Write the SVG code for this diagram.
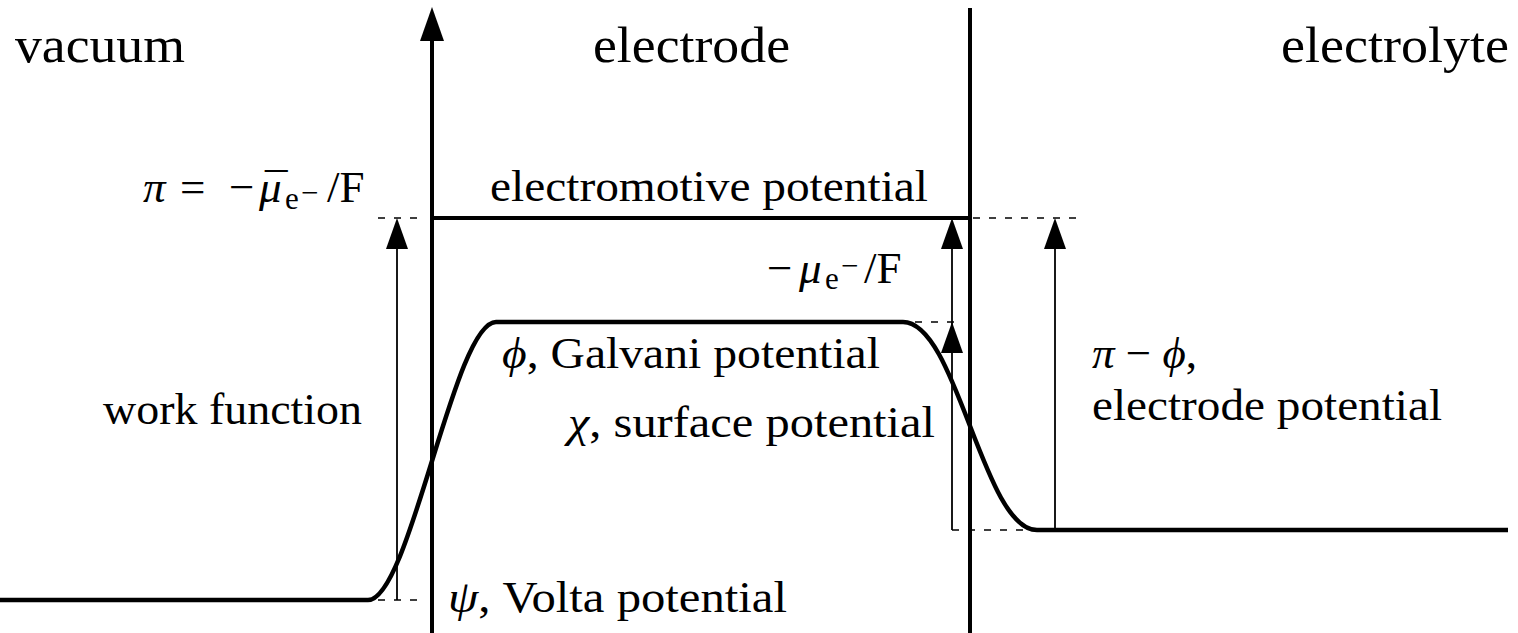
<svg xmlns="http://www.w3.org/2000/svg" width="1518" height="633" viewBox="0 0 1518 633">
<style>
text{font-family:"Liberation Serif","DejaVu Serif",serif;fill:#000}
.big{font-size:50px}
.lab{font-size:45px}
.sub{font-size:31px}
.it{font-style:italic}
.thick{stroke:#000;stroke-width:4;fill:none}
.thin{stroke:#000;stroke-width:1.8;fill:none}
.dash{stroke:#000;stroke-width:1.6;fill:none;stroke-dasharray:7 9}
.curve{stroke:#000;stroke-width:4.5;fill:none;stroke-linejoin:round}
.head{fill:#000}
</style>
<g id="axes">
<line class="thick" x1="432" y1="36" x2="432" y2="633"/>
<polygon class="head" points="432,7 420,41 444,41"/>
<line class="thick" x1="970" y1="8" x2="970" y2="633"/>
<line class="thick" x1="432" y1="218" x2="970" y2="218"/>
</g>
<g id="potential-curve">
<path class="curve" d="M0 600 L368 600 C410 600 454 322 496 322 L903 322 C957 322 983 530 1037 530 L1508 530"/>
</g>
<g id="guides">
<line class="dash" x1="378" y1="218" x2="422" y2="218"/>
<line class="dash" x1="973" y1="218" x2="1076" y2="218"/>
<line class="dash" x1="915" y1="322" x2="962" y2="322"/>
<line class="dash" x1="378" y1="600" x2="422" y2="600"/>
<line class="dash" x1="952" y1="530" x2="1032" y2="530"/>
</g>
<g id="connectors">
<line class="thin" x1="397" y1="600" x2="397" y2="240"/>
<polygon class="head" points="397,218 386,249 408,249"/>
<line class="thin" x1="952" y1="530" x2="952" y2="240"/>
<polygon class="head" points="952,218 941,249 963,249"/>
<polygon class="head" points="952,322 941,353 963,353"/>
<line class="thin" x1="1055" y1="530" x2="1055" y2="240"/>
<polygon class="head" points="1055,218 1044,249 1066,249"/>
</g>
<g id="region-labels">
<text class="big" x="15" y="62" textLength="170" lengthAdjust="spacingAndGlyphs">vacuum</text>
<text class="big" x="593" y="62" textLength="197" lengthAdjust="spacingAndGlyphs">electrode</text>
<text class="big" x="1281" y="62" textLength="228" lengthAdjust="spacingAndGlyphs">electrolyte</text>
</g>
<g id="label-pi">
<text class="lab"><tspan class="it" x="143" y="202">π</tspan><tspan x="180" y="202">=</tspan><tspan x="229" y="202">−</tspan><tspan class="it" x="259" y="202">μ</tspan><tspan x="265" y="204">¯</tspan><tspan class="sub" x="285" y="209">e</tspan><tspan class="sub" x="301" y="203">−</tspan><tspan x="327" y="202">/F</tspan></text>
</g>
<g id="label-emf">
<text class="lab" x="490" y="201" textLength="438" lengthAdjust="spacingAndGlyphs">electromotive potential</text>
</g>
<g id="label-mu">
<text class="lab"><tspan x="767" y="283">−</tspan><tspan class="it" x="799" y="283">μ</tspan><tspan class="sub" x="825" y="289">e</tspan><tspan class="sub" x="841" y="276">−</tspan><tspan x="864" y="283">/F</tspan></text>
</g>
<g id="label-galvani">
<text class="lab" x="502" y="368" textLength="378" lengthAdjust="spacingAndGlyphs"><tspan class="it">ϕ</tspan>, Galvani potential</text>
</g>
<g id="label-surface">
<text class="lab" x="568" y="437" textLength="367" lengthAdjust="spacingAndGlyphs"><tspan class="it">χ</tspan>, surface potential</text>
</g>
<g id="label-work">
<text class="lab" x="103" y="424" textLength="259" lengthAdjust="spacingAndGlyphs">work function</text>
</g>
<g id="label-volta">
<text class="lab" x="448" y="612" textLength="339" lengthAdjust="spacingAndGlyphs"><tspan class="it">ψ</tspan>, Volta potential</text>
</g>
<g id="label-electrode-potential">
<text class="lab" x="1092" y="368"><tspan class="it">π</tspan> − <tspan class="it">ϕ</tspan>,</text>
<text class="lab" x="1092" y="420" textLength="350" lengthAdjust="spacingAndGlyphs">electrode potential</text>
</g>
</svg>
